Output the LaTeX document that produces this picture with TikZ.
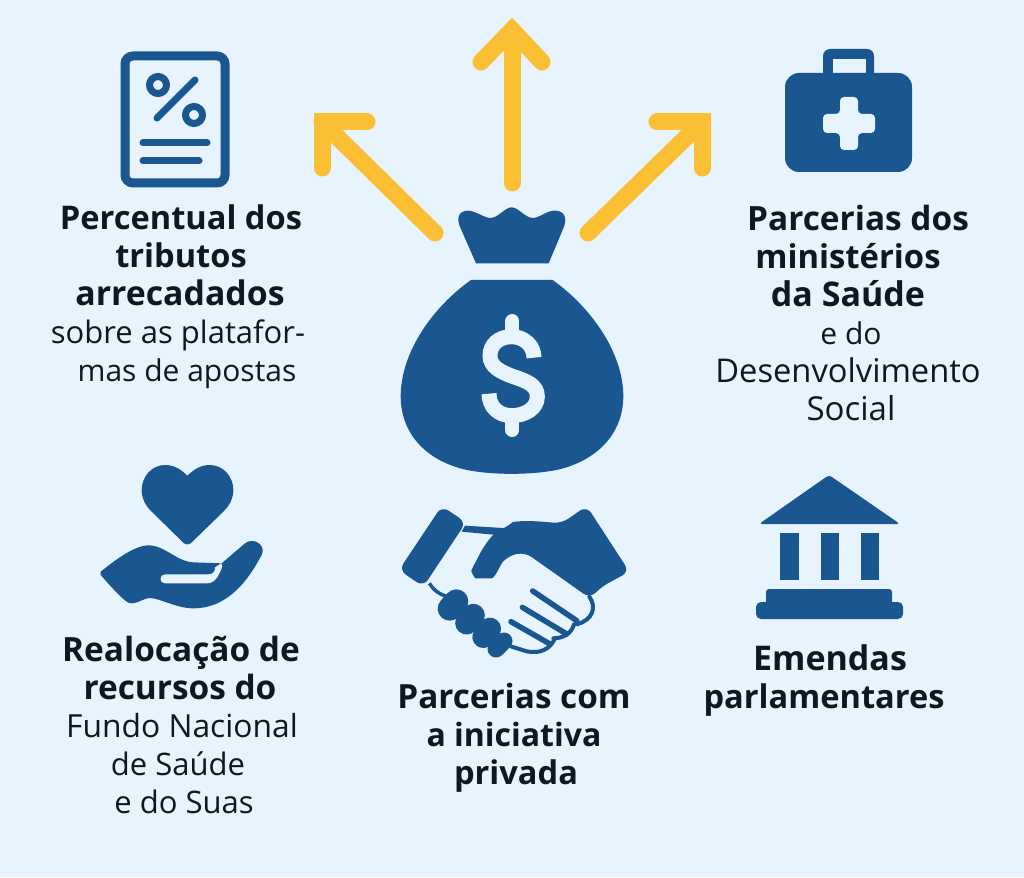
\documentclass[tikz,border=0pt]{standalone}
\usepackage{fontspec}
\setmainfont{Open Sans}
\newfontfamily\headfont{Open Sans}
\newfontfamily\bodyfont{Open Sans}
\definecolor{bgc}{HTML}{E7F3FD}
\definecolor{bluec}{HTML}{1A568F}
\definecolor{yelc}{HTML}{FBBF33}
\definecolor{txtc}{HTML}{10181F}
\newcommand{\setline}[2]{\makebox[0pt]{\hspace*{#1pt}#2\hspace*{-#1pt}}}
% \hd{size}{shift}{text}: heading line; \bd{size}{shift}{text}: body line
\newcommand{\hd}[3]{\setline{#2}{\headfont\bfseries\fontsize{#1}{38}\selectfont #3}}
\newcommand{\bd}[3]{\setline{#2}{\bodyfont\fontsize{#1}{38}\selectfont #3}}
\tikzset{
 txt/.style={anchor=north,inner sep=0pt,align=center,text=txtc,font=\fontsize{31}{38}\selectfont},
 ico/.style={fill=bluec,draw=none},
 lite/.style={fill=bgc,draw=none},
 arrowline/.style={draw=yelc,line width=17pt,line cap=round,line join=miter},
 zoomed/.style={x=.33333pt,y=-.33333pt},
}
\begin{document}
\begin{tikzpicture}[x=1pt,y=-1pt]
\path[use as bounding box,fill=bgc] (0,0) rectangle (1024,877);
% arrows
\coordinate (upS) at (512,183); \coordinate (upT) at (512,30);
\coordinate (upA) at (481,62); \coordinate (upB) at (542,62);
\coordinate (lS) at (435,233); \coordinate (lT) at (322,122);
\coordinate (lA) at (322,168); \coordinate (lB) at (367,122);
\coordinate (rS) at (588,233); \coordinate (rT) at (702,122);
\coordinate (rA) at (702,168); \coordinate (rB) at (657,122);
\draw[arrowline] (upS) -- (upT);
\draw[arrowline] (upA) -- (upT) -- (upB);
\draw[arrowline] (lS) -- (lT);
\draw[arrowline] (lA) -- (lT) -- (lB);
\draw[arrowline] (rS) -- (rT);
\draw[arrowline] (rA) -- (rT) -- (rB);
% document icon
\draw[draw=bluec,line width=9pt,rounded corners=8pt] (125,56) rectangle (225,183);
\draw[draw=bluec,line width=7pt] (158,85) circle[radius=8.5];
\draw[draw=bluec,line width=7pt] (194,115) circle[radius=8.5];
\draw[draw=bluec,line width=7pt,line cap=round] (157,118) -- (195,80);
\draw[draw=bluec,line width=7pt,line cap=round] (143,143) -- (207,143);
\draw[draw=bluec,line width=7pt,line cap=round] (143,161) -- (199,161);
% briefcase
\fill[ico,rounded corners=7pt] (823,80) -- (823,49) -- (874,49) -- (874,80) -- cycle;
\fill[lite] (833,59) rectangle (866,73);
\fill[ico,rounded corners=14pt] (785,73) rectangle (912,172);
\fill[lite,rounded corners=4pt] (840,97) -- (858,97) -- (858,114) -- (875,114) -- (875,133) -- (858,133) -- (858,150) -- (840,150) -- (840,133) -- (823,133) -- (823,114) -- (840,114) -- cycle;
% temple
\fill[ico,rounded corners=3pt] (829,475) -- (900,524) -- (759,524) -- cycle;
\fill[ico] (780,533) rectangle (799,580);
\fill[ico] (821,533) rectangle (839,580);
\fill[ico] (861,533) rectangle (879,580);
\fill[ico,rounded corners=3pt] (766,605) -- (766,589) -- (892,589) -- (892,605) -- cycle;
\fill[ico,rounded corners=5pt] (756,602) rectangle (903,619);
% money bag
\begin{scope}[shift={(390,195)},zoomed]
\fill[ico] (258,205) -- (476,205) -- (520,100) .. controls (535,65) and (520,45) .. (490,47) .. controls (470,48) and (445,70) .. (428,69) .. controls (405,68) and (385,37) .. (365,37) .. controls (345,37) and (325,68) .. (302,69) .. controls (285,70) and (255,47) .. (235,47) .. controls (205,47) and (198,70) .. (212,100) -- cycle;
\fill[ico] (243,255) -- (488,255) .. controls (600,335) and (700,470) .. (700,605) .. controls (700,700) and (640,785) .. (520,820) .. controls (440,842) and (290,842) .. (210,820) .. controls (90,785) and (32,700) .. (32,605) .. controls (32,470) and (130,335) .. (243,255) -- cycle;
\draw[draw=bgc,line width=15pt] (432,488) .. controls (432,450) and (400,425) .. (365,425) .. controls (325,425) and (300,450) .. (300,482) .. controls (300,515) and (330,530) .. (370,545) .. controls (410,558) and (442,570) .. (442,605) .. controls (442,640) and (405,662) .. (365,662) .. controls (325,662) and (297,635) .. (297,596);
\draw[draw=bgc,line width=14pt,line cap=round] (367,378) -- (367,420);
\draw[draw=bgc,line width=14pt,line cap=round] (367,670) -- (367,705);
\end{scope}
% heart and hand
\begin{scope}[shift={(90,460)},zoomed]
\fill[ico] (292,47) .. controls (270,25) and (250,15) .. (225,15) .. controls (185,15) and (155,50) .. (155,90) .. controls (155,115) and (165,135) .. (185,155) -- (280,248) .. controls (288,255) and (296,255) .. (304,248) -- (400,155) .. controls (420,135) and (430,115) .. (430,90) .. controls (430,50) and (400,15) .. (360,15) .. controls (335,15) and (315,25) .. (292,47) -- cycle;
\fill[ico] (32,335) .. controls (70,305) and (130,257) .. (175,256) .. controls (225,256) and (260,305) .. (310,307) -- (395,310) -- (465,250) .. controls (490,230) and (530,255) .. (515,285) .. controls (490,330) and (430,445) .. (310,445) .. controls (260,445) and (210,415) .. (180,414) .. controls (160,414) and (135,437) .. (115,428) .. controls (95,418) and (50,365) .. (32,345) -- cycle;
\fill[lite] (225,343) -- (355,343) .. controls (368,343) and (376,335) .. (375,322) -- (394,310) -- (397,320) .. controls (385,350) and (375,370) .. (350,370) -- (225,370) .. controls (207,370) and (207,343) .. (225,343) -- cycle;
\end{scope}
% handshake
\begin{scope}[shift={(380,490)},zoomed]
\fill[ico,rounded corners=8pt] (185,48) -- (258,97) -- (130,290) -- (57,240) -- cycle;
\fill[ico,rounded corners=8pt] (620,48) -- (748,245) -- (665,290) -- (630,325) -- (435,187) -- (385,197) .. controls (360,225) and (345,265) .. (310,265) .. controls (285,265) and (272,245) .. (285,220) .. controls (305,180) and (335,130) .. (380,112) .. controls (400,95) and (430,93) .. (460,93) -- (545,100) -- cycle;
\fill[ico] (255,107) -- (385,115) -- (340,134) -- (245,125) -- cycle;
\draw[draw=bluec,line width=3.5pt] (148,280) .. controls (160,300) and (180,315) .. (205,320);
\draw[draw=bluec,line width=24pt,line cap=round] (229,334) -- (209,356);
\draw[draw=bluec,line width=23pt,line cap=round] (280,376) -- (260,399);
\draw[draw=bluec,line width=22pt,line cap=round] (330,416) -- (310,441);
\draw[draw=bluec,line width=17pt,line cap=round] (372,453) -- (348,477);
\draw[draw=bluec,line width=5.5pt,line cap=round] (458,303) -- (590,392);
\draw[draw=bluec,line width=5.5pt,line cap=round] (427,352) -- (560,432);
\draw[draw=bluec,line width=5.5pt,line cap=round] (393,395) -- (510,462);
\draw[draw=bluec,line width=4pt,line cap=round] (628,320) .. controls (650,350) and (640,390) .. (590,403);
\draw[draw=bluec,line width=4pt,line cap=round] (582,403) .. controls (575,430) and (550,445) .. (520,445);
\draw[draw=bluec,line width=4pt,line cap=round] (525,445) .. controls (510,478) and (480,492) .. (440,484) -- (395,470);
\end{scope}
% labels
\node[txt] (t1) at (181,205) {\hd{32.6}{0}{Percentual dos}\\\hd{32.6}{0}{tributos}\\\hd{33.8}{-1}{arrecadados}\\\bd{31}{-3}{sobre as platafor-}\\\bd{30}{6}{mas de apostas}};
\node[txt] (t2) at (848,205) {\hd{33.4}{10}{Parcerias dos}\\\hd{32.8}{0}{ministérios}\\\hd{34}{0}{da Saúde}\\\bd{30}{3}{e do}\\\bd{32.7}{0}{Desenvolvimento}\\\bd{33}{3}{Social}};
\node[txt] (t3) at (181,636) {\hd{33.4}{0}{Realocação de}\\\hd{33.4}{-1}{recursos do}\\\bd{31.8}{1}{Fundo Nacional}\\\bd{31}{-3}{de Saúde}\\\bd{31}{3}{e do Suas}};
\node[txt] (t4) at (514,683) {\hd{33.3}{0}{Parcerias com}\\\hd{32}{0}{a iniciativa}\\\hd{32.6}{2}{privada}};
\node[txt] (t5) at (824,644) {\hd{34}{6}{Emendas}\\\hd{32.6}{0}{parlamentares}};
\end{tikzpicture}
\end{document}
